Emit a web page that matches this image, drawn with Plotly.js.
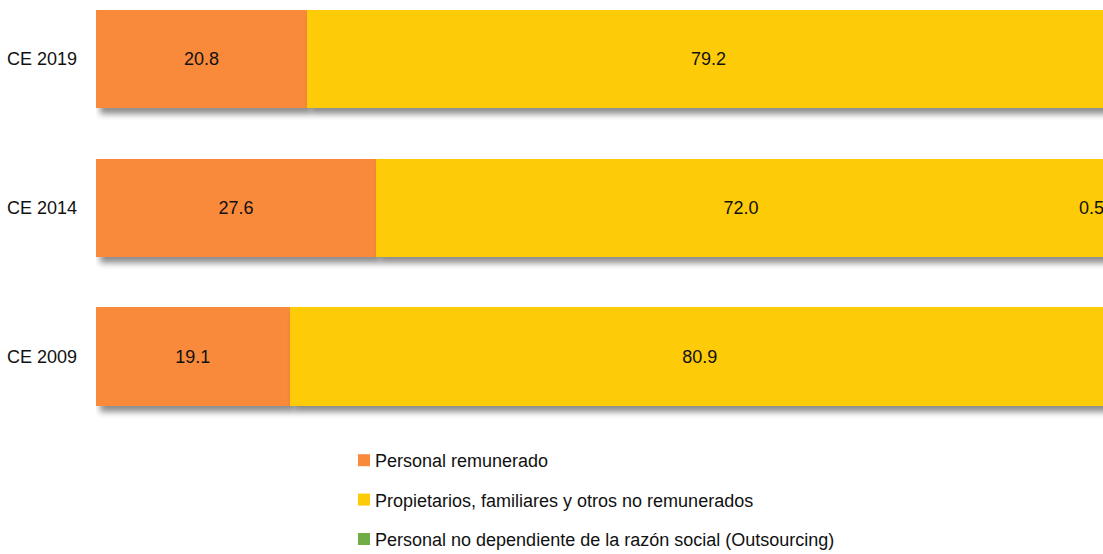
<!DOCTYPE html>
<html>
<head>
<meta charset="utf-8">
<script src="https://cdn.plot.ly/plotly-3.0.1.min.js"></script>
<style>
html, body { margin: 0; padding: 0; overflow: hidden; background: #fff; }
#chart { width: 1111px; height: 554px; }
.barlayer .point path { filter: drop-shadow(4px 6px 3px rgba(0,0,0,0.45)); }
</style>
</head>
<body>
<div id="chart"></div>
<script>
const categories = ['CE 2009', 'CE 2014', 'CE 2019'];
const remunerado = [19.1, 27.6, 20.8];
const propietarios = [80.9, 72.0, 79.2];
const outsourcing = [0.0, 0.5, 0.0];
const seriesNames = [
  'Personal remunerado',
  'Propietarios, familiares y otros no remunerados',
  'Personal no dependiente de la razón social (Outsourcing)'
];
const colors = ['#F98A3B', '#FDCB08', '#70AD47'];
const FONT = '"Liberation Sans", Arial, sans-serif';
const FS = 18;

function fmt(v) { return v.toFixed(1); }

const traces = [
  {
    type: 'bar', orientation: 'h', name: seriesNames[0], legendgroup: 'a',
    y: categories, x: remunerado, marker: { color: colors[0] },
    text: remunerado.map(fmt), textposition: 'inside', insidetextanchor: 'middle',
    textangle: 0, textfont: { color: '#111', size: FS, family: FONT }, hoverinfo: 'none', width: 0.66
  },
  {
    type: 'bar', orientation: 'h', name: seriesNames[1], legendgroup: 'b',
    y: categories, x: propietarios, marker: { color: colors[1] },
    text: propietarios.map(fmt), textposition: 'inside', insidetextanchor: 'middle',
    textangle: 0, textfont: { color: '#111', size: FS, family: FONT }, hoverinfo: 'none', width: 0.66
  },
  {
    type: 'bar', orientation: 'h', name: seriesNames[2], legendgroup: 'c',
    y: categories, x: outsourcing, marker: { color: colors[2] },
    textposition: 'none', hoverinfo: 'none', width: 0.66
  }
];

// label for the small outsourcing segment (CE 2014)
const annotations = [];
categories.forEach((c, i) => {
  if (outsourcing[i] > 0) {
    annotations.push({
      x: remunerado[i] + propietarios[i], y: c, xref: 'x', yref: 'y',
      text: fmt(outsourcing[i]), showarrow: false, xanchor: 'right',
      font: { size: FS, family: FONT, color: '#111' }
    });
  }
});

const layout = {
  width: 1111, height: 554,
  margin: { l: 96, r: 1, t: 0, b: 124, pad: 0, autoexpand: false },
  barmode: 'stack',
  paper_bgcolor: '#fff', plot_bgcolor: '#fff',
  font: { family: FONT, size: FS, color: '#111' },
  xaxis: { range: [0, 100], visible: false, fixedrange: true },
  yaxis: {
    type: 'category', range: [-0.494, 2.397], showgrid: false, zeroline: false,
    showline: false, ticks: '', ticklabelstandoff: 18, automargin: false,
    tickfont: { size: FS, family: FONT, color: '#111' }, fixedrange: true
  },
  showlegend: true,
  legend: {
    orientation: 'v', xref: 'container', yref: 'container',
    x: 344 / 1111, xanchor: 'left', y: 1 - 442 / 554, yanchor: 'top',
    traceorder: 'grouped', tracegroupgap: 13,
    font: { size: FS, family: FONT, color: '#111' },
    bgcolor: 'rgba(0,0,0,0)'
  },
  annotations: annotations
};

Plotly.newPlot('chart', traces, layout, { displayModeBar: false, staticPlot: true }).then(() => {
  document.querySelectorAll('.legend .legendtext').forEach(t => {
    t.setAttribute('x', (parseFloat(t.getAttribute('x')) || 0) - 9);
  });
});
</script>
</body>
</html>
